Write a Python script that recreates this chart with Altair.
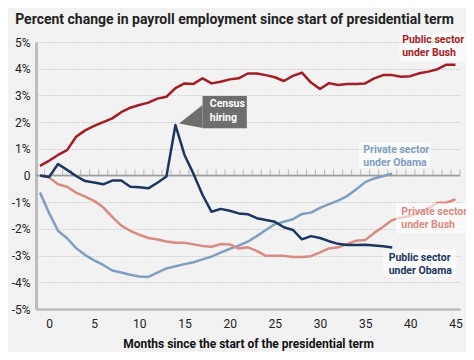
import altair as alt
import pandas as pd

FONT = "Roboto, Liberation Sans, sans-serif"

# Months since the start of the presidential term
months_bush = list(range(-1, 46))
months_obama = list(range(-1, 39))

public_bush = [0.36, 0.55, 0.77, 0.95, 1.45, 1.69, 1.86, 2.00, 2.14, 2.37,
               2.54, 2.64, 2.73, 2.88, 2.95, 3.27, 3.45, 3.43, 3.64, 3.45,
               3.51, 3.60, 3.64, 3.82, 3.82, 3.76, 3.68, 3.54, 3.73, 3.85,
               3.48, 3.24, 3.46, 3.39, 3.43, 3.43, 3.45, 3.64, 3.76, 3.76,
               3.70, 3.72, 3.83, 3.89, 3.98, 4.15, 4.15]
private_bush = [0.00, -0.07, -0.33, -0.42, -0.64, -0.79, -0.95, -1.19, -1.55, -1.88,
                -2.07, -2.22, -2.34, -2.40, -2.47, -2.52, -2.52, -2.58, -2.64, -2.67,
                -2.57, -2.58, -2.73, -2.69, -2.82, -3.01, -3.01, -3.01, -3.05, -3.05,
                -3.02, -2.88, -2.73, -2.69, -2.57, -2.44, -2.42, -2.15, -1.92, -1.67,
                -1.57, -1.52, -1.36, -1.23, -1.02, -1.02, -0.89]
private_obama = [-0.64, -1.40, -2.07, -2.35, -2.72, -2.98, -3.18, -3.35, -3.56, -3.63,
                 -3.72, -3.78, -3.80, -3.64, -3.48, -3.40, -3.32, -3.25, -3.14, -3.04,
                 -2.89, -2.75, -2.63, -2.48, -2.27, -2.04, -1.82, -1.73, -1.64, -1.44,
                 -1.39, -1.21, -1.07, -0.94, -0.77, -0.52, -0.25, -0.11, -0.02, 0.07]
public_obama = [0.00, -0.06, 0.43, 0.21, -0.02, -0.21, -0.26, -0.33, -0.19, -0.19,
                -0.42, -0.44, -0.48, -0.27, -0.04, 1.89, 0.77, 0.06, -0.73, -1.36,
                -1.25, -1.32, -1.42, -1.45, -1.60, -1.67, -1.73, -1.94, -2.04, -2.39,
                -2.27, -2.34, -2.46, -2.56, -2.60, -2.60, -2.59, -2.62, -2.65, -2.70]

series_names = ["Private sector under Obama", "Private sector under Bush",
                "Public sector under Obama", "Public sector under Bush"]
series_colors = ["#7f9ec0", "#d98a82", "#1c365f", "#a31d24"]

x_ticks = [0, 5, 10, 15, 20, 25, 30, 35, 40, 45]
y_ticks = [-5, -4, -3, -2, -1, 0, 1, 2, 3, 4, 5]
zero_ticks = [n - 0.5 for n in range(0, 47)]

# Annotation labels (anchored in data units; y = first text line)
label_text = [["Public sector", "under Bush"], ["Private sector", "under Obama"],
              ["Private sector", "under Bush"], ["Public sector", "under Obama"]]
label_colors = ["#a31d24", "#7f9ec0", "#d98a82", "#1c365f"]
label_x = [39.1, 34.8, 39.0, 37.6]
label_y = [5.07, 0.95, -1.38, -3.10]
box_x = [38.8, 34.3, 38.4, 37.0]
box_x2 = [46.1, 42.2, 46.2, 45.1]
box_y = [5.34, 1.25, -1.03, -2.75]
box_y2 = [4.29, 0.28, -2.15, -3.80]

census_box = dict(x=17.0, x2=21.9, y=2.98, y2=1.77)
census_pointer_x = [14.4, 17.0]
census_pointer_y = [1.95, 2.64]
census_pointer_y2 = [1.95, 1.78]
census_text = dict(x=17.8, y=2.68, text=["Census", "hiring"])

XDOM = [-1.44, 45.5]
YDOM = [-5, 5]

xs = alt.Scale(domain=XDOM, nice=False, zero=False)
ys = alt.Scale(domain=YDOM, nice=False, zero=False)

base_x_axis = alt.Axis(values=x_ticks, tickCount=len(x_ticks), format="d",
                       ticks=False, grid=False,
                       domainColor="#bdbdbd", domainWidth=2.5, labelOverlap=False,
                       labelFont=FONT, labelFontSize=12, labelColor="#222",
                       labelPadding=9,
                       title="Months since the start of the presidential term",
                       titleFont=FONT, titleFontSize=12, titleFontWeight="bold",
                       titleColor="#111", titlePadding=9)
base_y_axis = alt.Axis(values=y_ticks, tickCount=len(y_ticks), ticks=False,
                       grid=True, labelOverlap=False,
                       gridColor="#b5b5b5", gridDash=[1, 2], gridWidth=1,
                       domainColor="#bdbdbd", domainWidth=3,
                       labelFont=FONT, labelFontSize=12, labelColor="#222",
                       labelPadding=6, title=None,
                       labelExpr="datum.value == 0 ? '0' : datum.value + '%'")

XN = lambda f: alt.X(f, scale=xs)
YN = lambda f: alt.Y(f, scale=ys)

# grid/axes layer
grid_df = pd.DataFrame({"m": [XDOM[0]], "v": [0]})
axes_layer = alt.Chart(grid_df).mark_point(opacity=0).encode(
    x=alt.X("m:Q", scale=xs, axis=base_x_axis),
    y=alt.Y("v:Q", scale=ys, axis=base_y_axis),
)

zero_df = pd.DataFrame({"m": zero_ticks, "v": [0] * len(zero_ticks)})
zero_rule = alt.Chart(pd.DataFrame({"v": [0]})).mark_rule(
    color="#9a9a9a", strokeWidth=1.5).encode(y=YN("v:Q"))
zero_tick = alt.Chart(zero_df).mark_tick(
    orient="vertical", size=6, thickness=1, color="#a0a0a0", yOffset=-3
).encode(x=XN("m:Q"), y=YN("v:Q"))

series_data = [(months_obama, private_obama), (months_bush, private_bush),
               (months_obama, public_obama), (months_bush, public_bush)]
line_layers = []
for name, color, (mm, vals) in zip(series_names, series_colors, series_data):
    df = pd.DataFrame({"m": mm, "v": vals, "series": name})
    line_layers.append(
        alt.Chart(df).mark_line(color=color, strokeWidth=2.5, strokeJoin="round").encode(
            x=XN("m:Q"), y=YN("v:Q")))

box_df = pd.DataFrame({"x": box_x, "x2": box_x2, "y": box_y, "y2": box_y2})
boxes = alt.Chart(box_df).mark_rect(fill="white", opacity=0.6).encode(
    x=XN("x:Q"), x2="x2:Q", y=YN("y:Q"), y2="y2:Q")

lab_df = pd.DataFrame({"x": label_x, "y": label_y, "text": label_text,
                       "c": label_colors})
labels = alt.Chart(lab_df).mark_text(
    align="left", baseline="middle", font=FONT, fontSize=10.5, fontWeight="bold",
    lineHeight=13).encode(
    x=XN("x:Q"), y=YN("y:Q"), text="text",
    color=alt.Color("c:N", scale=None))

cbox = alt.Chart(pd.DataFrame([census_box])).mark_rect(fill="#6e6e6e").encode(
    x=XN("x:Q"), x2="x2:Q", y=YN("y:Q"), y2="y2:Q")
cptr = alt.Chart(pd.DataFrame({"x": census_pointer_x, "y": census_pointer_y,
                               "y2": census_pointer_y2})).mark_area(
    fill="#6e6e6e", orient="vertical").encode(
    x=XN("x:Q"), y=YN("y:Q"), y2="y2:Q")
ctext = alt.Chart(pd.DataFrame([{"x": census_text["x"], "y": census_text["y"],
                                 "text": census_text["text"]}])).mark_text(
    align="left", baseline="middle", font=FONT, fontSize=10.5, fontWeight="bold",
    lineHeight=14, color="white").encode(
    x=XN("x:Q"), y=YN("y:Q"), text="text")

chart = alt.layer(
    axes_layer, zero_rule, zero_tick, *line_layers, boxes, labels, cptr, cbox, ctext
).properties(
    width=424, height=267,
    autosize=alt.AutoSizeParams(type="none"),
    padding={"left": 28, "top": 34, "right": 6, "bottom": 43},
    background="#f2f2f2",
    title=alt.TitleParams(
        "Percent change in payroll employment since start of presidential term",
        anchor="start", font=FONT, fontSize=14, fontWeight="bold",
        color="#222", dx=4, offset=6),
).configure_view(stroke=None).configure_axis(labelOverlap=False)

chart.save("out.html", embed_options={"renderer": "svg", "actions": False})
